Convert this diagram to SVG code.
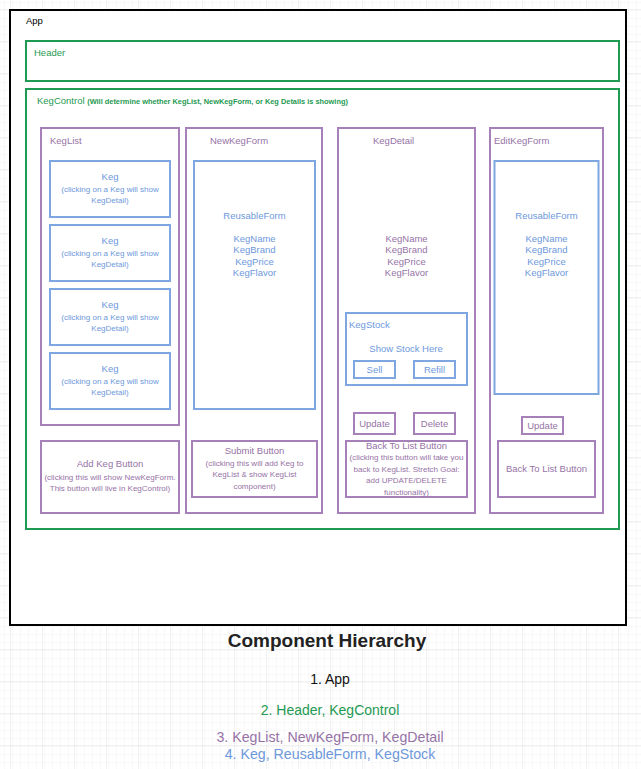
<svg xmlns="http://www.w3.org/2000/svg" width="641" height="769" viewBox="0 0 641 769">
<defs>
<pattern id="minor" x="10" y="9" width="8" height="8" patternUnits="userSpaceOnUse">
<path d="M0 0H8M0 0V8" fill="none" stroke="#f2f2f2" stroke-width="1"/>
</pattern>
<pattern id="major" x="10" y="9" width="32" height="32" patternUnits="userSpaceOnUse">
<rect width="32" height="32" fill="url(#minor)"/>
<path d="M0 0H32M0 0V32" fill="none" stroke="#e4e4e4" stroke-width="1"/>
</pattern>
</defs>
<style>
text{font-family:"Liberation Sans",Arial,Helvetica,sans-serif;}
.app{fill:#fff;stroke:#000;stroke-width:2}
.g{fill:#fff;stroke:#1f9a52;stroke-width:2}
.p{fill:#fff;stroke:#a680b8;stroke-width:2}
.b{fill:#fff;stroke:#7ea6e0;stroke-width:2}
.tg{fill:#1f9a52;font-size:9.5px}
.tp{fill:#9673a6;font-size:9.5px}
.tb{fill:#6d98dc;font-size:9.5px}
.sp{fill:#9673a6;font-size:8px}
.sb{fill:#6d98dc;font-size:8px}
.c{text-anchor:middle}
</style>
<rect width="641" height="769" fill="#fff"/>
<rect width="641" height="769" fill="url(#major)"/>

<g id="app">
<rect class="app" x="10" y="10" width="616" height="615"/>
<text x="26" y="24" font-size="9.5" fill="#000">App</text>
</g>

<g id="header">
<rect class="g" x="26" y="41" width="593" height="40"/>
<text class="tg" x="34" y="56">Header</text>
</g>

<g id="kegcontrol">
<rect class="g" x="26" y="89" width="593" height="440"/>
<text class="tg" x="37" y="104">KegControl <tspan font-size="7.4" font-weight="bold">(Will determine whether KegList, NewKegForm, or Keg Details is showing)</tspan></text>
</g>

<g id="keglist">
<rect class="p" x="41" y="128" width="138" height="297"/>
<text class="tp" x="50" y="144">KegList</text>
</g>

<g id="keg1">
<rect class="b" x="50" y="161" width="120" height="56"/>
<text class="tb c" x="110" y="180">Keg</text>
<text class="sb c" x="110" y="192">(clicking on a Keg will show</text>
<text class="sb c" x="110" y="203">KegDetail)</text>
</g>
<g id="keg2">
<rect class="b" x="50" y="225" width="120" height="56"/>
<text class="tb c" x="110" y="244">Keg</text>
<text class="sb c" x="110" y="256">(clicking on a Keg will show</text>
<text class="sb c" x="110" y="267">KegDetail)</text>
</g>
<g id="keg3">
<rect class="b" x="50" y="289" width="120" height="56"/>
<text class="tb c" x="110" y="308">Keg</text>
<text class="sb c" x="110" y="320">(clicking on a Keg will show</text>
<text class="sb c" x="110" y="331">KegDetail)</text>
</g>
<g id="keg4">
<rect class="b" x="50" y="353" width="120" height="56"/>
<text class="tb c" x="110" y="372">Keg</text>
<text class="sb c" x="110" y="384">(clicking on a Keg will show</text>
<text class="sb c" x="110" y="395">KegDetail)</text>
</g>

<g id="addkeg">
<rect class="p" x="41" y="441" width="138" height="72"/>
<text class="tp c" x="110" y="467">Add Keg Button</text>
<text class="sp c" x="110" y="480">(clicking this will show NewKegForm.</text>
<text class="sp c" x="110" y="491">This button will live in KegControl)</text>
</g>

<g id="newkegform">
<rect class="p" x="186" y="128" width="136" height="385"/>
<text class="tp" x="210" y="144">NewKegForm</text>
</g>
<g id="reusableform1">
<rect class="b" x="194" y="161" width="121" height="248"/>
<text class="tb c" x="254.5" y="219">ReusableForm</text>
<text class="tb c" x="254.5" y="242">KegName</text>
<text class="tb c" x="254.5" y="253.3">KegBrand</text>
<text class="tb c" x="254.5" y="264.6">KegPrice</text>
<text class="tb c" x="254.5" y="276">KegFlavor</text>
</g>
<g id="submit">
<rect class="p" x="192" y="441" width="125" height="56"/>
<text class="tp c" x="254.5" y="454">Submit Button</text>
<text class="sp c" x="254.5" y="466">(clicking this will add Keg to</text>
<text class="sp c" x="254.5" y="477">KegList &amp; show KegList</text>
<text class="sp c" x="254.5" y="488.5">component)</text>
</g>

<g id="kegdetail">
<rect class="p" x="338" y="128" width="137" height="385"/>
<text class="tp" x="373" y="144">KegDetail</text>
<text class="tp c" x="406.5" y="242">KegName</text>
<text class="tp c" x="406.5" y="253.3">KegBrand</text>
<text class="tp c" x="406.5" y="264.6">KegPrice</text>
<text class="tp c" x="406.5" y="276">KegFlavor</text>
</g>
<g id="kegstock">
<rect class="b" x="346" y="313" width="121" height="72"/>
<text class="tb" x="349" y="327.5">KegStock</text>
<text class="tb c" x="406" y="352">Show Stock Here</text>
</g>
<g id="sell">
<rect class="b" x="354" y="361" width="41" height="17"/>
<text class="tb c" x="374.5" y="372.5">Sell</text>
</g>
<g id="refill">
<rect class="b" x="414" y="361" width="41" height="17"/>
<text class="tb c" x="434.5" y="372.5">Refill</text>
</g>
<g id="update1">
<rect class="p" x="354" y="413" width="41" height="21"/>
<text class="tp c" x="374.5" y="426.5">Update</text>
</g>
<g id="delete">
<rect class="p" x="414" y="413" width="41" height="21"/>
<text class="tp c" x="434.5" y="426.5">Delete</text>
</g>
<g id="backtolist1">
<rect class="p" x="346" y="441" width="121" height="56"/>
<text class="tp c" x="406.5" y="448.5">Back To List Button</text>
<text class="sp c" x="406.5" y="460">(clicking this button will take you</text>
<text class="sp c" x="406.5" y="471.5">back to KegList. Stretch Goal:</text>
<text class="sp c" x="406.5" y="483">add UPDATE/DELETE</text>
<text class="sp c" x="406.5" y="494.5">functionality)</text>
</g>

<g id="editkegform">
<rect class="p" x="490" y="128" width="113" height="385"/>
<text class="tp" x="494" y="144">EditKegForm</text>
</g>
<g id="reusableform2">
<rect class="b" x="494.5" y="161" width="104" height="233"/>
<text class="tb c" x="546.5" y="219">ReusableForm</text>
<text class="tb c" x="546.5" y="242">KegName</text>
<text class="tb c" x="546.5" y="253.3">KegBrand</text>
<text class="tb c" x="546.5" y="264.6">KegPrice</text>
<text class="tb c" x="546.5" y="276">KegFlavor</text>
</g>
<g id="update2">
<rect class="p" x="522" y="417" width="41" height="17"/>
<text class="tp c" x="542.5" y="428.5">Update</text>
</g>
<g id="backtolist2">
<rect class="p" x="498" y="441" width="97" height="56"/>
<text class="tp c" x="546.5" y="472">Back To List Button</text>
</g>

<g id="connectors"></g>

<g id="legend">
<text x="327" y="647" font-size="19" font-weight="bold" fill="#222" text-anchor="middle">Component Hierarchy</text>
<text x="330" y="684" font-size="14" fill="#111" text-anchor="middle">1. App</text>
<text x="330" y="714.5" font-size="14" fill="#1f9a52" text-anchor="middle">2. Header, KegControl</text>
<text x="330" y="742" font-size="14.2" fill="#9673a6" text-anchor="middle">3. KegList, NewKegForm, KegDetail</text>
<text x="330" y="758.5" font-size="14.2" fill="#6d98dc" text-anchor="middle">4. Keg, ReusableForm, KegStock</text>
</g>
</svg>
